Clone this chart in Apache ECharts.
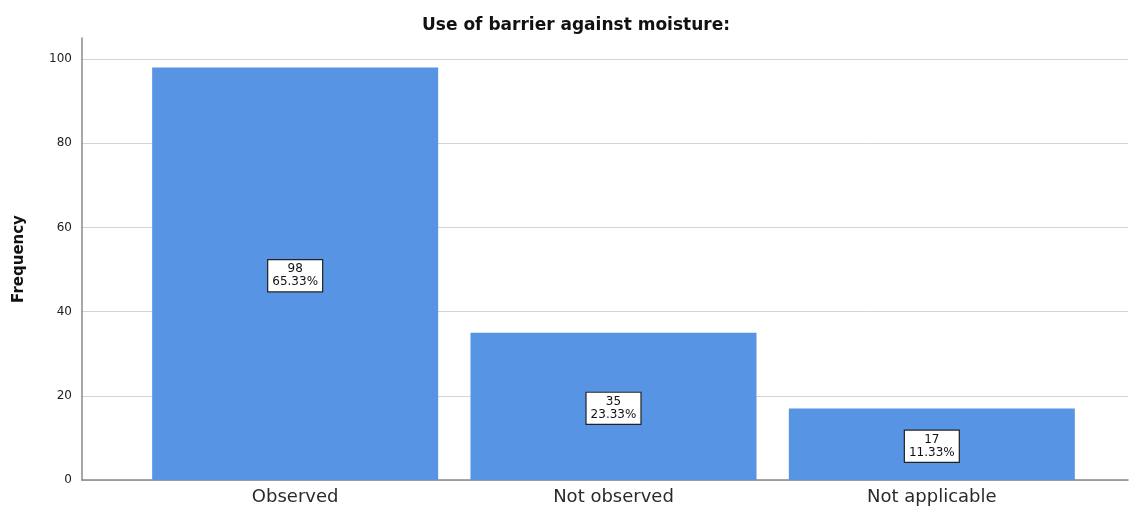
<!DOCTYPE html>
<html><head><meta charset="utf-8">
<script src="https://cdn.jsdelivr.net/npm/echarts@6/dist/echarts.min.js"></script>
<style>html,body{margin:0;padding:0;background:#fff}#c{width:1130px;height:506px}</style>
</head><body><div id="c"></div>
<script>
const categories = ["Observed", "Not observed", "Not applicable"];
const counts = [98, 35, 17];
const percents = ["65.33%", "23.33%", "11.33%"];
const yTicks = [0, 20, 40, 60, 80, 100];

const chart = echarts.init(document.getElementById('c'), null, {renderer: 'canvas'});
const font = '"DejaVu Sans", Verdana, sans-serif';
chart.setOption({
  animation: false,
  title: {
    text: 'Use of barrier against moisture:',
    left: 571, top: 12, textAlign: 'center',
    textStyle: {fontFamily: font, fontSize: 17, fontWeight: 'bold', color: '#111'}
  },
  grid: [
    {left: 82, right: 2, top: 38, bottom: 26},
    {left: 136, right: 39, top: 38, bottom: 26}
  ],
  xAxis: [
    {gridIndex: 0, type: 'value', min: 0, max: 1, axisLine: {show: true, lineStyle: {color: '#888', width: 1.5}},
     axisTick: {show: false}, axisLabel: {show: false}, splitLine: {show: false}},
    {gridIndex: 1, type: 'category', data: categories,
     axisLine: {show: false}, axisTick: {show: false},
     axisLabel: {fontFamily: font, fontSize: 18, color: '#2a2a2a', margin: 8}}
  ],
  yAxis: [
    {gridIndex: 0, type: 'value', min: 0, max: 105, interval: 20,
     name: 'Frequency', nameLocation: 'middle', nameGap: 55, nameRotate: 90,
     nameTextStyle: {fontFamily: font, fontSize: 15, fontWeight: 'bold', color: '#111'},
     axisLine: {show: true, lineStyle: {color: '#888', width: 1.5}},
     axisTick: {show: false},
     axisLabel: {fontFamily: font, fontSize: 12, color: '#222', margin: 10, showMaxLabel: false,
       formatter: v => yTicks.includes(v) ? String(v) : ''},
     splitLine: {show: true, showMaxLine: false, lineStyle: {color: '#d4d4d4', width: 1}}},
    {gridIndex: 1, type: 'value', min: 0, max: 105, show: false, splitLine: {show: false}}
  ],
  series: [{
    type: 'bar', xAxisIndex: 1, yAxisIndex: 1,
    data: counts, barWidth: 286,
    itemStyle: {color: '#5794e3'},
    label: {
      show: true, position: 'inside', offset: [0, 2],
      formatter: p => counts[p.dataIndex] + '\n' + percents[p.dataIndex],
      fontFamily: font, fontSize: 12, color: '#111', lineHeight: 13,
      backgroundColor: '#fff', borderColor: '#222', borderWidth: 1.2,
      padding: [3, 4, 2, 4]
    }
  }]
});
</script></body></html>
